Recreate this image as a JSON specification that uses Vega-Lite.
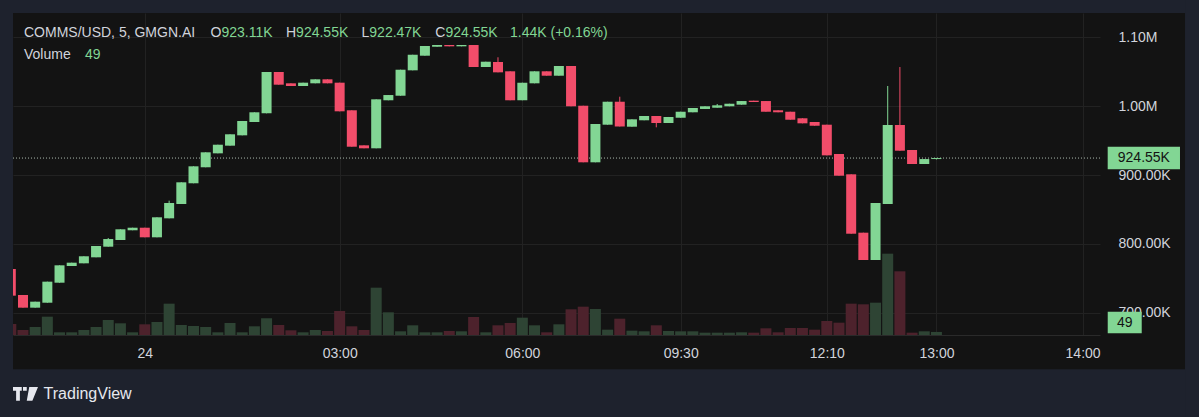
{
  "$schema": "https://vega.github.io/schema/vega-lite/v6.json",
  "width": 1087,
  "height": 322,
  "autosize": {"type": "none"},
  "padding": {"left": 13, "top": 13, "right": 99, "bottom": 82},
  "background": "#131313",
  "config": {"view": {"stroke": null}, "font": "Liberation Sans"},
  "datasets": {
    "bars": [
      {"i":0,"o":763800,"h":763800,"l":725100,"c":725100,"v":176},
      {"i":1,"o":726100,"h":726100,"l":707700,"c":707700,"v":80},
      {"i":2,"o":707700,"h":716400,"l":707700,"c":716400,"v":128},
      {"i":3,"o":714900,"h":745400,"l":714900,"c":745400,"v":293},
      {"i":4,"o":743900,"h":769100,"l":743900,"c":769100,"v":43},
      {"i":5,"o":768100,"h":772900,"l":768100,"c":772900,"v":43},
      {"i":6,"o":772000,"h":782200,"l":772000,"c":782200,"v":80},
      {"i":7,"o":780700,"h":797100,"l":780700,"c":797100,"v":128},
      {"i":8,"o":796100,"h":808700,"l":796100,"c":807200,"v":240},
      {"i":9,"o":805800,"h":821300,"l":805800,"c":821300,"v":187},
      {"i":10,"o":819900,"h":823600,"l":819900,"c":823600,"v":43},
      {"i":11,"o":823600,"h":823600,"l":809700,"c":809700,"v":171},
      {"i":12,"o":809700,"h":838700,"l":809700,"c":838700,"v":208},
      {"i":13,"o":837200,"h":862800,"l":837200,"c":859400,"v":501},
      {"i":14,"o":858000,"h":889400,"l":858000,"c":889400,"v":160},
      {"i":15,"o":888000,"h":912600,"l":888000,"c":912600,"v":144},
      {"i":16,"o":911200,"h":932900,"l":911200,"c":932900,"v":128},
      {"i":17,"o":931400,"h":943900,"l":931400,"c":943900,"v":43},
      {"i":18,"o":942500,"h":959000,"l":942500,"c":959000,"v":192},
      {"i":19,"o":957500,"h":978300,"l":957500,"c":978300,"v":43},
      {"i":20,"o":976800,"h":990900,"l":976800,"c":990900,"v":139},
      {"i":21,"o":989400,"h":1049300,"l":989400,"c":1049300,"v":267},
      {"i":22,"o":1049300,"h":1049300,"l":1030900,"c":1030900,"v":160},
      {"i":23,"o":1032900,"h":1032900,"l":1029000,"c":1029000,"v":75},
      {"i":24,"o":1029000,"h":1033800,"l":1029000,"c":1033800,"v":43},
      {"i":25,"o":1032900,"h":1038700,"l":1032900,"c":1038700,"v":80},
      {"i":26,"o":1038700,"h":1038700,"l":1032900,"c":1032900,"v":64},
      {"i":27,"o":1033800,"h":1033800,"l":992300,"c":992300,"v":384},
      {"i":28,"o":993800,"h":993800,"l":941000,"c":941000,"v":139},
      {"i":29,"o":943000,"h":943000,"l":938700,"c":938700,"v":80},
      {"i":30,"o":938700,"h":1009700,"l":938700,"c":1009700,"v":757},
      {"i":31,"o":1008300,"h":1015900,"l":1008300,"c":1015900,"v":363},
      {"i":32,"o":1014900,"h":1052600,"l":1014900,"c":1052600,"v":59},
      {"i":33,"o":1051700,"h":1074300,"l":1051700,"c":1074300,"v":155},
      {"i":34,"o":1072900,"h":1087000,"l":1072900,"c":1087000,"v":43},
      {"i":35,"o":1085900,"h":1088400,"l":1085900,"c":1088400,"v":43},
      {"i":36,"o":1088400,"h":1088400,"l":1086500,"c":1086500,"v":64},
      {"i":37,"o":1086500,"h":1088400,"l":1086500,"c":1088400,"v":59},
      {"i":38,"o":1088400,"h":1088400,"l":1056500,"c":1056500,"v":288},
      {"i":39,"o":1056500,"h":1064200,"l":1056500,"c":1064200,"v":43},
      {"i":40,"o":1063800,"h":1070600,"l":1048800,"c":1048800,"v":155},
      {"i":41,"o":1050300,"h":1050300,"l":1008300,"c":1008300,"v":192},
      {"i":42,"o":1008300,"h":1033800,"l":1008300,"c":1033800,"v":277},
      {"i":43,"o":1032900,"h":1050300,"l":1032900,"c":1050300,"v":155},
      {"i":44,"o":1050300,"h":1050300,"l":1043900,"c":1043900,"v":43},
      {"i":45,"o":1043900,"h":1058000,"l":1043900,"c":1058000,"v":171},
      {"i":46,"o":1058000,"h":1058000,"l":999600,"c":999600,"v":411},
      {"i":47,"o":1000400,"h":1000400,"l":918400,"c":918400,"v":453},
      {"i":48,"o":918400,"h":973900,"l":918400,"c":973900,"v":416},
      {"i":49,"o":972900,"h":1006200,"l":972900,"c":1006200,"v":85},
      {"i":50,"o":1006200,"h":1013500,"l":970300,"c":970300,"v":261},
      {"i":51,"o":970000,"h":980700,"l":970000,"c":980700,"v":69},
      {"i":52,"o":979300,"h":985500,"l":979300,"c":985500,"v":59},
      {"i":53,"o":985500,"h":985500,"l":969100,"c":975400,"v":155},
      {"i":54,"o":975400,"h":984100,"l":975400,"c":984100,"v":64},
      {"i":55,"o":983000,"h":991700,"l":983000,"c":991700,"v":59},
      {"i":56,"o":990900,"h":997100,"l":990900,"c":997100,"v":59},
      {"i":57,"o":995700,"h":999600,"l":995700,"c":999600,"v":37},
      {"i":58,"o":997500,"h":1002900,"l":997500,"c":1001000,"v":37},
      {"i":59,"o":999600,"h":1003300,"l":999600,"c":1003300,"v":37},
      {"i":60,"o":1001900,"h":1007200,"l":1001900,"c":1007200,"v":43},
      {"i":61,"o":1007700,"h":1007700,"l":1005800,"c":1005800,"v":37},
      {"i":62,"o":1007200,"h":1007200,"l":991700,"c":991700,"v":107},
      {"i":63,"o":993800,"h":993800,"l":990900,"c":990900,"v":43},
      {"i":64,"o":991700,"h":991700,"l":980100,"c":980100,"v":112},
      {"i":65,"o":982200,"h":982200,"l":974900,"c":974900,"v":112},
      {"i":66,"o":976800,"h":976800,"l":971400,"c":971400,"v":85},
      {"i":67,"o":972900,"h":972900,"l":928500,"c":928500,"v":224},
      {"i":68,"o":930400,"h":930400,"l":899000,"c":899000,"v":197},
      {"i":69,"o":901000,"h":901000,"l":814900,"c":814900,"v":501},
      {"i":70,"o":816400,"h":816400,"l":776800,"c":776800,"v":491},
      {"i":71,"o":776800,"h":859400,"l":776800,"c":859400,"v":517},
      {"i":72,"o":858000,"h":1029000,"l":858000,"c":972500,"v":1301},
      {"i":73,"o":972500,"h":1056500,"l":935200,"c":935200,"v":1019},
      {"i":74,"o":936200,"h":936200,"l":915900,"c":915900,"v":37},
      {"i":75,"o":915900,"h":923110,"l":915900,"c":923110,"v":59},
      {"i":76,"o":923110,"h":924550,"l":922470,"c":924550,"v":49}
    ]
  },
  "layer": [
    {
      "data": {"name": "bars"},
      "mark": {"type": "bar", "width": 11, "clip": true},
      "encoding": {
        "x": {
          "field": "i", "type": "quantitative",
          "scale": {"domain": [0.18, 89.43], "nice": false, "zero": false, "padding": 0},
          "axis": {
            "values": [11, 27, 42, 55, 67, 76, 88],
            "labelExpr": "datum.value == 11 ? '24' : datum.value == 27 ? '03:00' : datum.value == 42 ? '06:00' : datum.value == 55 ? '09:30' : datum.value == 67 ? '12:10' : datum.value == 76 ? '13:00' : '14:00'",
            "title": null, "grid": true, "gridColor": "#222222", "gridWidth": 1,
            "domain": true, "domainColor": "#2a2a2a", "ticks": false, "tickSize": 0,
            "labelPadding": 18, "labelBaseline": "middle", "labelColor": "#d1d4dc", "labelFontSize": 14,
            "labelOverlap": false, "labelFlush": false
          }
        },
        "y": {"field": "v", "type": "quantitative", "scale": {"domain": [0, 5152], "nice": false, "zero": false, "padding": 0}, "axis": null},
        "color": {"condition": {"test": "datum.c >= datum.o", "value": "#2e4434"}, "value": "#4d222c"}
      }
    },
    {
      "data": {"values": [{}]},
      "mark": {"type": "rect", "color": "#1e222d"},
      "encoding": {
        "x": {"datum": -2, "type": "quantitative"},
        "x2": {"datum": 100},
        "y": {"datum": 1160000, "type": "quantitative", "scale": {"domain": [668100, 1134800], "nice": false, "zero": false, "padding": 0}, "axis": null},
        "y2": {"datum": 1134800}
      }
    },
    {
      "data": {"values": [{}]},
      "mark": {"type": "rect", "color": "#1e222d"},
      "encoding": {
        "x": {"datum": -2, "type": "quantitative"},
        "x2": {"datum": 100},
        "y": {"datum": 618400, "type": "quantitative", "scale": {"domain": [668100, 1134800], "nice": false, "zero": false, "padding": 0}, "axis": null},
        "y2": {"datum": 540000}
      }
    },
    {
      "data": {"values": [{}]},
      "mark": {"type": "rect", "color": "#1e222d"},
      "encoding": {
        "x": {"datum": -2, "type": "quantitative"},
        "x2": {"datum": 0.18},
        "y": {"datum": 1160000, "type": "quantitative", "scale": {"domain": [668100, 1134800], "nice": false, "zero": false, "padding": 0}, "axis": null},
        "y2": {"datum": 540000}
      }
    },
    {
      "data": {"values": [{}]},
      "mark": {"type": "rect", "color": "#1e222d"},
      "encoding": {
        "x": {"datum": 96.41, "type": "quantitative"},
        "x2": {"datum": 100},
        "y": {"datum": 1160000, "type": "quantitative", "scale": {"domain": [668100, 1134800], "nice": false, "zero": false, "padding": 0}, "axis": null},
        "y2": {"datum": 540000}
      }
    },
    {
      "data": {"values": [{}]},
      "mark": {"type": "rule", "color": "#aab8ae", "strokeDash": [1, 2], "strokeWidth": 1},
      "encoding": {
        "y": {"datum": 924550, "type": "quantitative", "scale": {"domain": [668100, 1134800], "nice": false, "zero": false, "padding": 0}, "axis": null}
      }
    },
    {
      "data": {"name": "bars"},
      "mark": {"type": "rule", "strokeWidth": 1, "clip": true},
      "encoding": {
        "x": {"field": "i", "type": "quantitative"},
        "y": {"field": "l", "type": "quantitative", "scale": {"domain": [668100, 1134800], "nice": false, "zero": false, "padding": 0}, "axis": null},
        "y2": {"field": "h"},
        "color": {"condition": {"test": "datum.c >= datum.o", "value": "#82d694"}, "value": "#f24d6a"}
      }
    },
    {
      "data": {"name": "bars"},
      "mark": {"type": "bar", "width": 10, "clip": true},
      "encoding": {
        "x": {"field": "i", "type": "quantitative"},
        "y": {
          "field": "o", "type": "quantitative",
          "scale": {"domain": [668100, 1134800], "nice": false, "zero": false, "padding": 0},
          "axis": {
            "orient": "right",
            "values": [700000, 800000, 900000, 1000000, 1100000],
            "labelExpr": "datum.value >= 1000000 ? format(datum.value / 1000000, '.2f') + 'M' : format(datum.value / 1000, '.2f') + 'K'",
            "title": null, "grid": true, "gridColor": "#222222", "gridWidth": 1,
            "domain": false, "ticks": false, "tickSize": 0,
            "labelPadding": 18, "labelAlign": "left", "labelBaseline": "middle", "labelColor": "#d1d4dc", "labelFontSize": 14,
            "labelOverlap": false, "labelFlush": false
          }
        },
        "y2": {"field": "c"},
        "color": {"condition": {"test": "datum.c >= datum.o", "value": "#82d694"}, "value": "#f24d6a"}
      }
    },
    {
      "data": {"values": [{}]},
      "mark": {"type": "point", "shape": "M-1,-0.3125L1,-0.3125L1,0.3125L-1,0.3125Z", "size": 5227, "filled": true, "opacity": 1, "color": "#82d694", "strokeWidth": 0},
      "encoding": {
        "x": {"datum": 93.03, "type": "quantitative"},
        "y": {"datum": 924550, "type": "quantitative", "scale": {"domain": [668100, 1134800], "nice": false, "zero": false, "padding": 0}, "axis": null}
      }
    },
    {
      "data": {"values": [{}]},
      "mark": {"type": "text", "text": "924.55K", "color": "#131313", "fontSize": 14, "align": "center", "baseline": "middle"},
      "encoding": {
        "x": {"datum": 93.03, "type": "quantitative"},
        "y": {"datum": 924550, "type": "quantitative", "scale": {"domain": [668100, 1134800], "nice": false, "zero": false, "padding": 0}, "axis": null}
      }
    },
    {
      "data": {"values": [{}]},
      "mark": {"type": "point", "shape": "M-1,-0.635L1,-0.635L1,0.635L-1,0.635Z", "size": 1156, "filled": true, "opacity": 1, "color": "#82d694", "strokeWidth": 0},
      "encoding": {
        "x": {"datum": 91.46, "type": "quantitative"},
        "y": {"datum": 200, "type": "quantitative", "scale": {"domain": [0, 5152], "nice": false, "zero": false, "padding": 0}, "axis": null}
      }
    },
    {
      "data": {"values": [{}]},
      "mark": {"type": "text", "text": "49", "color": "#131313", "fontSize": 14, "align": "center", "baseline": "middle"},
      "encoding": {
        "x": {"datum": 91.46, "type": "quantitative"},
        "y": {"datum": 200, "type": "quantitative", "scale": {"domain": [0, 5152], "nice": false, "zero": false, "padding": 0}, "axis": null}
      }
    },
    {
      "data": {"values": [
        {"t": "COMMS/USD, 5, GMGN.AI", "px": 1.083, "py": 1105400, "k": "label"},
        {"t": "O", "px": 16.405, "py": 1105400, "k": "label"},
        {"t": "923.11K", "px": 17.3, "py": 1105400, "k": "value"},
        {"t": "H", "px": 22.596, "py": 1105400, "k": "label"},
        {"t": "924.55K", "px": 23.425, "py": 1105400, "k": "value"},
        {"t": "L", "px": 28.795, "py": 1105400, "k": "label"},
        {"t": "922.47K", "px": 29.435, "py": 1105400, "k": "value"},
        {"t": "C", "px": 34.855, "py": 1105400, "k": "label"},
        {"t": "924.55K", "px": 35.684, "py": 1105400, "k": "value"},
        {"t": "1.44K (+0.16%)", "px": 40.988, "py": 1105400, "k": "value"},
        {"t": "Volume", "px": 1.083, "py": 1073900, "k": "label"},
        {"t": "49", "px": 6.092, "py": 1073900, "k": "value"}
      ]},
      "mark": {"type": "text", "fontSize": 14, "align": "left", "baseline": "middle"},
      "encoding": {
        "x": {"field": "px", "type": "quantitative"},
        "y": {"field": "py", "type": "quantitative", "scale": {"domain": [668100, 1134800], "nice": false, "zero": false, "padding": 0}, "axis": null},
        "text": {"field": "t"},
        "color": {"condition": {"test": "datum.k == 'value'", "value": "#82d694"}, "value": "#d1d4dc"}
      }
    },
    {
      "data": {"values": [{}]},
      "mark": {"type": "point", "shape": "M-1,-0.55L-0.3,-0.55L-0.3,-0.25L-0.45,-0.25L-0.45,0.55L-0.75,0.55L-0.75,-0.25L-1,-0.25Z M-0.2,-0.55L0.1,-0.55L0.1,-0.25L-0.2,-0.25Z M0.3,-0.55L1,-0.55L0.55,0.55L0.1,0.55Z", "size": 625, "filled": true, "opacity": 1, "color": "#e6e8ee", "strokeWidth": 0},
      "encoding": {
        "x": {"datum": 1.206, "type": "quantitative"},
        "y": {"datum": 582600, "type": "quantitative", "scale": {"domain": [668100, 1134800], "nice": false, "zero": false, "padding": 0}, "axis": null}
      }
    },
    {
      "data": {"values": [{}]},
      "mark": {"type": "text", "text": "TradingView", "color": "#e6e8ee", "fontSize": 16, "align": "left", "baseline": "middle"},
      "encoding": {
        "x": {"datum": 2.693, "type": "quantitative"},
        "y": {"datum": 582600, "type": "quantitative", "scale": {"domain": [668100, 1134800], "nice": false, "zero": false, "padding": 0}, "axis": null}
      }
    }
  ],
  "resolve": {"scale": {"y": "independent"}}
}
